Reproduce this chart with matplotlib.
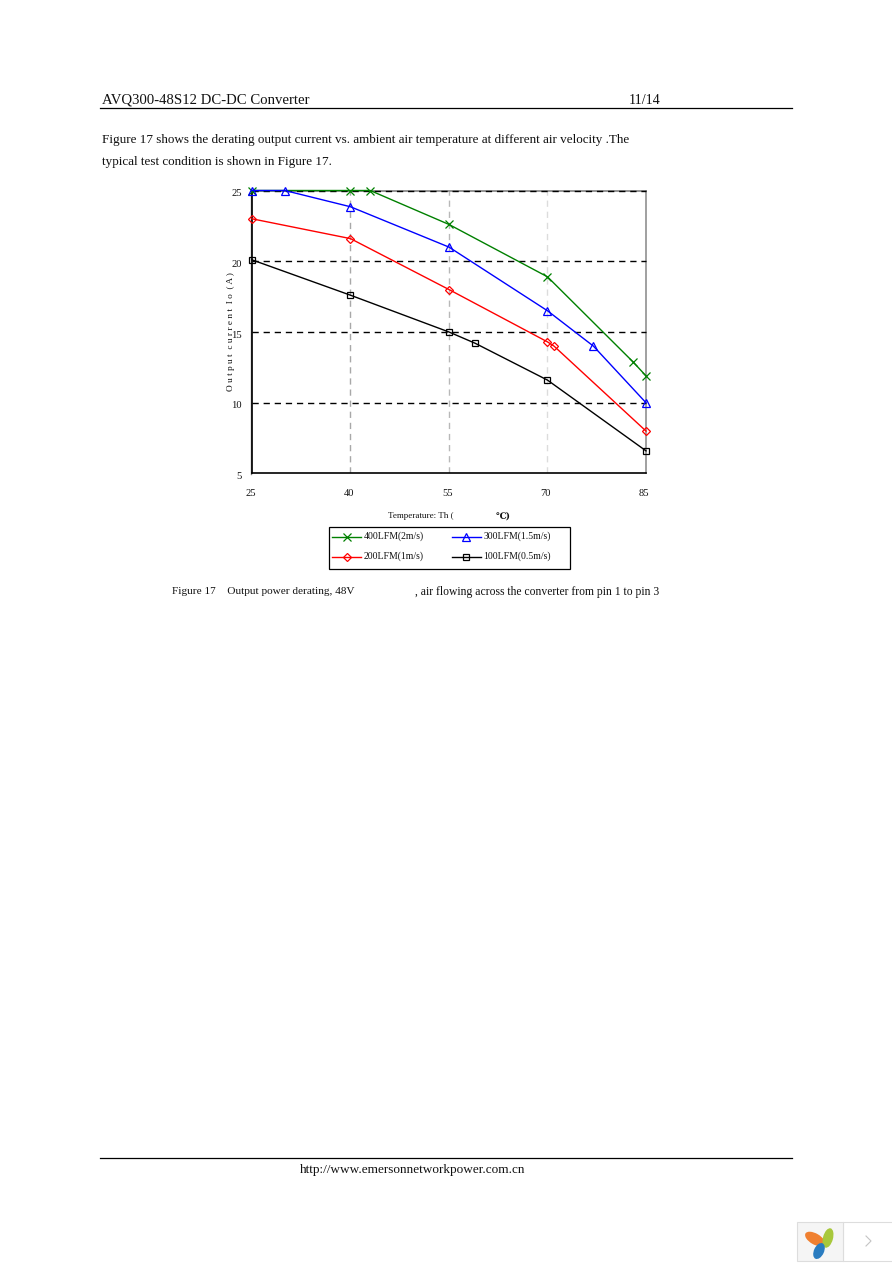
import matplotlib
matplotlib.use("Agg")
import matplotlib.pyplot as plt
from matplotlib.patches import Rectangle, Ellipse
from matplotlib.transforms import ScaledTranslation
from matplotlib.lines import Line2D

plt.rcParams['font.family'] = ['Liberation Serif', 'DejaVu Serif']

W, H = 892, 1263

x_400 = [25, 40, 43, 55, 70, 83, 85]
y_400 = [25, 25, 25, 22.6, 18.9, 12.9, 11.9]
x_300 = [25, 30, 40, 55, 70, 77, 85]
y_300 = [25, 25, 23.85, 21.0, 16.5, 14.0, 10.0]
x_200 = [25, 40, 55, 70, 71, 85]
y_200 = [23.0, 21.6, 18.0, 14.3, 14.0, 8.0]
x_100 = [25, 40, 55, 59, 70, 85]
y_100 = [20.1, 17.6, 15.0, 14.2, 11.6, 6.6]
x_ticks = [25, 40, 55, 70, 85]
y_ticks = [5, 10, 15, 20, 25]
labels = ['400LFM(2m/s)', '300LFM(1.5m/s)', '200LFM(1m/s)', '100LFM(0.5m/s)']

fig = plt.figure(figsize=(W / 100, H / 100), dpi=100, facecolor='white')

# page layer in pixel coordinates (y down)
page = fig.add_axes([0, 0, 1, 1])
page.set_xlim(0, W)
page.set_ylim(H, 0)
page.axis('off')

def t(x, y, s, size, **kw):
    page.text(x, y, s, fontsize=size, va='center', ha=kw.pop('ha', 'left'), color='#111111', **kw)

t(102, 100, 'AVQ300-48S12 DC-DC Converter', 10.65)
t(629, 100, '11/14', 10.1)
page.plot([100, 792], [107.5, 107.5], color='black', lw=0.9)
t(102, 140.5, 'Figure 17 shows the derating output current vs. ambient air temperature at different air velocity .The', 9.43)
t(102, 162, 'typical test condition is shown in Figure 17.', 9.43)
t(172, 591.5, 'Figure 17    Output power derating, 48V', 8.1)
t(415, 591.5, ', air flowing across the converter from pin 1 to pin 3', 8.4)
t(388, 516, 'Temperature: Th (', 6.5)
t(496, 516, '℃)', 6.5, fontweight='bold', family=['DejaVu Serif'])
page.plot([100, 792], [1158, 1158], color='black', lw=0.9)
t(300, 1170.5, 'http://www.emersonnetworkpower.com.cn', 9.5)

# rotated y axis title with letter spacing as in the reference
t(231, 332, 'O u t p u t  c u r r e n t  I o  ( A )', 6.7, rotation=90, ha='center')

# chart
L, R, T, B = 252, 646, 190.5, 473.5
ax = fig.add_axes([L / W, 1 - B / H, (R - L) / W, (B - T) / H])
ax.set_xlim(25, 85)
ax.set_ylim(5, 25)
ax.patch.set_alpha(0)
for yv in y_ticks[1:]:
    ax.axhline(yv, color='black', lw=1.0, dashes=(4.5, 3.5), zorder=3, clip_on=False)
ax.axvline(40, color='#a8a8a8', lw=1.0, dashes=(4.5, 3.5), zorder=1)
ax.axvline(55, color='#b8b8b8', lw=1.0, dashes=(4.5, 3.5), zorder=1)
ax.axvline(70, color='#dcdcdc', lw=1.0, dashes=(4.5, 3.5), zorder=1)

series = [
    (x_400, y_400, '#008000', 'x', 5.6, labels[0]),
    (x_300, y_300, '#0000ff', '^', 5.5, labels[1]),
    (x_200, y_200, '#ff0000', 'D', 4.2, labels[2]),
    (x_100, y_100, '#000000', 's', 4.5, labels[3]),
]
for xs, ys, c, m, ms, lab in series:
    ax.plot(xs, ys, color=c, lw=1.0, marker=m, ms=ms, mfc='none', mec=c, mew=0.9,
            clip_on=False, zorder=4)

ax.spines['top'].set_color('#808080')
ax.spines['right'].set_color('#909090')
ax.spines['left'].set_color('black')
ax.spines['bottom'].set_color('black')
for s in ax.spines.values():
    s.set_linewidth(1.2)
page.plot([251, 251], [T, B], color='#808080', lw=1.0, zorder=1)

ax.set_xticks(x_ticks)
ax.set_yticks(y_ticks)
ax.tick_params(axis='both', length=0, labelsize=7.6, labelcolor='#111111')
ax.tick_params(axis='x', pad=11.5)
ax.tick_params(axis='y', pad=7.5)
for lb in ax.get_xticklabels():
    lb.set_transform(lb.get_transform() + ScaledTranslation(-1.2 / 72, 0, fig.dpi_scale_trans))
for lb in ax.get_yticklabels():
    lb.set_transform(lb.get_transform() + ScaledTranslation(0, -1.6 / 72, fig.dpi_scale_trans))

# legend
page.add_patch(Rectangle((328.5, 526.5), 241, 42, fc='white', ec='black', lw=0.9, zorder=3))
slots = [(332, 536.5), (451.5, 536.5), (332, 556.5), (451.5, 556.5)]
for (xs, ys, c, m, ms, lab), (lx, ly) in zip(series, slots):
    page.plot([lx, lx + 29], [ly, ly], color=c, lw=1.0, zorder=4)
    page.plot([lx + 14.5], [ly], marker=m, ms=ms, mfc='none', mec=c, mew=0.9, color=c, zorder=5)
    page.text(lx + 32, ly, lab, fontsize=7.0, va='center', color='#111111', zorder=5)

# viewer widget in the bottom right corner
page.add_patch(Rectangle((842.5, 1221.5), 50, 39, fc='white', ec='#dddddd', lw=0.8))
page.add_patch(Rectangle((796.5, 1221.5), 46, 39, fc='#f5f5f5', ec='#dddddd', lw=0.8))
page.add_patch(Ellipse((815, 1239), 22, 11, angle=30, fc='#f08030', ec='none'))
page.add_patch(Ellipse((828, 1238), 10, 20, angle=15, fc='#a8c83c', ec='none'))
page.add_patch(Ellipse((819, 1251), 10, 17, angle=25, fc='#2a7cc0', ec='none'))
page.add_line(Line2D([866, 871, 866], [1236, 1241, 1246], color='#c4c4c4', lw=0.8))

fig.savefig('out.png', dpi=100, facecolor='white')
